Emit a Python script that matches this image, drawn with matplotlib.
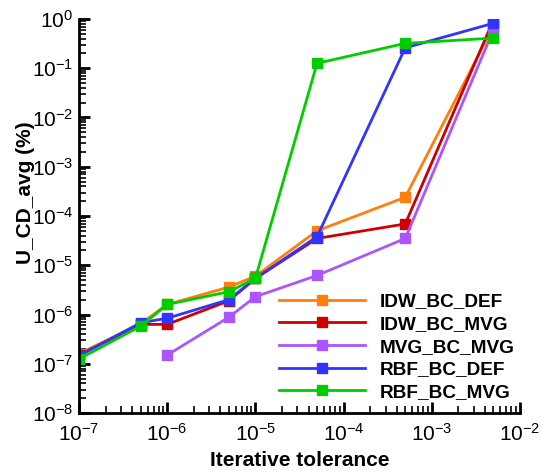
import matplotlib
matplotlib.use("Agg")
import matplotlib.pyplot as plt
from matplotlib.ticker import LogLocator, NullFormatter

plt.rcParams['font.family'] = ['Liberation Sans', 'DejaVu Sans']

# tolérances itératives
tol = [1e-7, 5e-7, 1e-6, 5e-6, 1e-5, 5e-5, 5e-4, 5e-3]
tol_mvg = [1e-6, 5e-6, 1e-5, 5e-5, 5e-4, 5e-3]

idw_bc_def = [1.6e-7, 6.5e-7, 1.6e-6, 3.6e-6, 6.0e-6, 5.0e-5, 2.4e-4, 0.72]
idw_bc_mvg = [1.5e-7, 6.3e-7, 6.3e-7, 1.9e-6, 5.4e-6, 3.5e-5, 6.9e-5, 0.95]
mvg_bc_mvg = [1.5e-7, 8.8e-7, 2.3e-6, 6.2e-6, 3.5e-5, 0.6]
rbf_bc_def = [1.45e-7, 6.8e-7, 8.4e-7, 2.0e-6, 5.4e-6, 3.8e-5, 0.26, 0.82]
rbf_bc_mvg = [1.25e-7, 5.8e-7, 1.6e-6, 2.9e-6, 5.4e-6, 0.126, 0.32, 0.41]

series = [
    ("IDW_BC_DEF", tol, idw_bc_def, '#ff7f0e'),
    ("IDW_BC_MVG", tol, idw_bc_mvg, '#cc0000'),
    ("MVG_BC_MVG", tol_mvg, mvg_bc_mvg, '#aa55ff'),
    ("RBF_BC_DEF", tol, rbf_bc_def, '#3333ff'),
    ("RBF_BC_MVG", tol, rbf_bc_mvg, '#00cc00'),
]

fig = plt.figure(figsize=(5.41, 4.73), dpi=100)
ax = fig.add_axes([79 / 541, 60 / 473, 441 / 541, 394 / 473])

for nom, x, y, c in series:
    ax.plot(x, y, color=c, lw=2, marker='s', ms=7, mec=c, mfc=c, label=nom)

ax.set_xscale('log')
ax.set_yscale('log')
ax.set_xlim(1e-7, 1e-2)
ax.set_ylim(1e-8, 1e0)

ax.spines['top'].set_visible(False)
ax.spines['right'].set_visible(False)
ax.spines['left'].set_linewidth(2)
ax.spines['bottom'].set_linewidth(2)

ax.xaxis.set_major_locator(LogLocator(base=10, numticks=10))
ax.yaxis.set_major_locator(LogLocator(base=10, numticks=12))
ax.xaxis.set_minor_locator(LogLocator(base=10, subs=range(2, 10), numticks=12))
ax.yaxis.set_minor_locator(LogLocator(base=10, subs=range(2, 10), numticks=12))
ax.xaxis.set_minor_formatter(NullFormatter())
ax.yaxis.set_minor_formatter(NullFormatter())

ax.tick_params(which='major', direction='in', length=8, width=2, labelsize=15,
               top=False, right=False)
ax.tick_params(axis='x', which='major', pad=7)
ax.tick_params(axis='y', which='major', pad=4)
ax.tick_params(which='minor', direction='in', length=5, width=1.2,
               top=False, right=False)

ax.set_xlabel("Iterative tolerance", fontsize=15, fontweight='bold')
ax.set_ylabel("U_CD_avg (%)", fontsize=15, fontweight='bold')
ax.xaxis.set_label_coords(0.5, -0.096)
ax.yaxis.set_label_coords(-0.10, 0.558)

leg = ax.legend(loc='upper left', bbox_to_anchor=(279 / 541, 1 - 293 / 473),
                bbox_transform=fig.transFigure, frameon=False,
                borderpad=0, borderaxespad=0,
                handlelength=4.5, handletextpad=0.8, labelspacing=0.28,
                prop={'weight': 'bold', 'size': 13.7})

fig.savefig("out.png", dpi=100)
